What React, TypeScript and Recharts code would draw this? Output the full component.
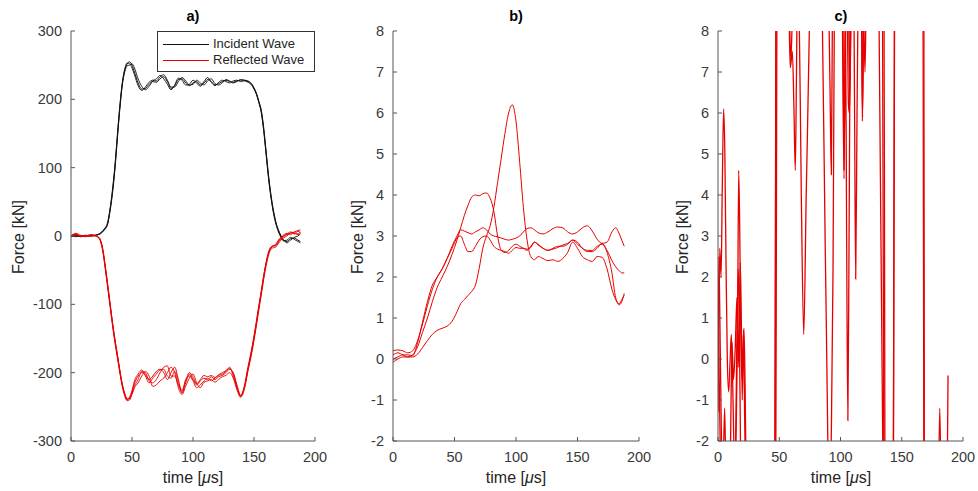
import React from 'react';
import { LineChart, Line, XAxis, YAxis } from 'recharts';

// ---------- Panel a) data ----------
const tA = [0, 4, 8, 12, 16, 20,
  22, 24, 26, 28, 30, 32, 34, 36, 38, 40, 42, 44, 46, 48, 50, 52,
  55, 58, 61, 64, 67, 70, 73, 76, 79, 82, 85, 88, 91, 94, 97, 100, 103, 106, 109, 112, 115, 118, 121, 124, 127, 130, 133, 136, 139, 142, 145, 148,
  150, 152, 154, 156, 158, 160, 162, 164, 166, 168, 170, 172, 174,
  177, 180, 183, 186, 188];

const incident1 = [0, 1, -1, 0, 0, 1,
  2, 4, 7, 11, 18, 38, 65, 100, 145, 188, 222, 242, 252, 255, 250, 240,
  224, 215, 216, 222, 226, 225, 230, 233, 226, 216, 220, 229, 230, 224, 220, 224, 226, 221, 224, 229, 226, 221, 223, 226, 228, 226, 225, 227, 228, 228, 226, 222,
  216, 208, 196, 182, 155, 120, 85, 57, 35, 19, 8, 0, -6,
  -8, -4, -3, -6, -8];
const incident2 = [0, 0, 0, 1, 0, 1,
  2, 3, 6, 10, 17, 36, 62, 97, 142, 185, 220, 240, 249, 250, 252, 246,
  230, 219, 214, 219, 227, 230, 235, 230, 222, 214, 221, 231, 228, 221, 222, 228, 224, 219, 226, 232, 225, 220, 225, 228, 226, 224, 227, 228, 226, 227, 225, 221,
  215, 207, 195, 180, 153, 118, 83, 55, 33, 17, 6, -2, -7,
  -6, -2, -5, -8, -10];
const incident3 = [0, -1, 0, 0, 1, 1,
  2, 4, 8, 12, 20, 40, 68, 103, 148, 190, 224, 244, 253, 252, 246, 236,
  220, 213, 218, 225, 228, 227, 233, 236, 228, 218, 218, 226, 232, 227, 221, 222, 228, 224, 221, 227, 230, 223, 221, 224, 229, 227, 224, 226, 229, 228, 227, 223,
  217, 209, 197, 184, 158, 123, 88, 59, 37, 20, 9, 1, -5,
  -10, -6, -2, 0, 3];

const reflected1 = [0, 3, -1, 0, 2, 1,
  -1, -6, -20, -45, -72, -100, -128, -153, -175, -198, -218, -232, -240, -237, -228, -216,
  -205, -200, -203, -210, -205, -198, -195, -200, -210, -200, -192, -210, -230, -215, -202, -210, -218, -212, -208, -210, -206, -210, -206, -204, -200, -195, -200, -218, -233, -222, -195, -170,
  -150, -128, -105, -83, -60, -40, -25, -17, -15, -14, -9, -4, -1,
  2, 4, 6, 8, 9];
const reflected2 = [0, 2, 0, -1, 1, 0,
  -1, -5, -18, -42, -70, -98, -126, -151, -173, -196, -216, -230, -238, -238, -230, -220,
  -210, -198, -200, -212, -215, -210, -200, -192, -190, -205, -205, -218, -228, -210, -205, -212, -222, -218, -212, -208, -212, -208, -204, -202, -198, -192, -205, -222, -235, -220, -192, -166,
  -146, -124, -101, -80, -57, -38, -23, -16, -14, -12, -6, -2, 1,
  4, 2, 5, 3, 6];
const reflected3 = [0, 4, 1, 0, 1, 0,
  -2, -7, -22, -47, -75, -103, -131, -156, -178, -200, -220, -234, -241, -240, -232, -222,
  -215, -205, -198, -205, -220, -218, -212, -208, -200, -192, -200, -222, -232, -220, -208, -202, -215, -222, -214, -212, -210, -214, -210, -206, -204, -200, -208, -225, -236, -225, -198, -173,
  -153, -131, -108, -86, -63, -43, -28, -19, -17, -16, -11, -6, -3,
  0, 5, 3, 7, 5];
const reflected4 = [1, 2, 0, 1, 0, 1,
  -1, -6, -20, -44, -71, -99, -127, -152, -174, -197, -217, -231, -239, -236, -226, -212,
  -202, -196, -205, -215, -208, -202, -196, -195, -205, -208, -198, -214, -226, -212, -200, -206, -216, -210, -204, -206, -204, -207, -203, -200, -197, -194, -202, -220, -234, -223, -196, -168,
  -148, -126, -103, -81, -58, -39, -24, -16, -14, -13, -7, -3, 0,
  3, 6, 4, 2, 4];

// ---------- Panel b) data ----------
const tB = [0, 4, 8, 12, 16, 20, 24, 28, 32, 36, 40, 44, 48, 52,
  55, 58, 61, 64, 67, 70, 73, 76, 79, 82, 85, 88, 91, 94, 97, 100, 103, 106, 109, 112, 115, 118,
  122, 126, 130, 134, 138, 142, 146, 150, 154, 158, 162, 166, 170, 174, 178,
  181, 184, 186, 188];

const bSeries1 = [0.1, 0.15, 0.1, 0.05, 0.1, 0.3, 0.65, 1.0, 1.4, 1.75, 2.0, 2.25, 2.55, 2.9,
  3.2, 3.5, 3.75, 3.95, 4.0, 3.98, 4.03, 4.05, 3.92, 3.6, 3.0, 2.65, 2.6, 2.65, 2.75, 2.8, 2.75, 2.7, 2.65, 2.75, 2.85, 2.8,
  2.7, 2.65, 2.7, 2.75, 2.75, 2.8, 2.9, 2.85, 2.7, 2.65, 2.65, 2.75, 2.8, 2.65, 2.4,
  2.25, 2.15, 2.1, 2.1];
const bSeries2 = [0.2, 0.22, 0.2, 0.15, 0.2, 0.45, 0.85, 1.3, 1.7, 2.0, 2.2, 2.45, 2.75, 3.0,
  3.15, 3.12, 3.08, 3.05, 3.1, 3.15, 3.2, 3.15, 3.05, 3.0, 2.98, 2.95, 2.92, 2.9, 2.92, 2.95, 3.0, 3.1, 3.18, 3.2, 3.15, 3.08,
  3.05, 3.1, 3.18, 3.22, 3.2, 3.1, 3.05, 3.1, 3.2, 3.25, 3.12, 2.92, 2.82, 2.85, 3.1,
  3.2, 3.05, 2.9, 2.75];
const bSeries3 = [0.0, 0.05, 0.1, 0.1, 0.08, 0.4, 0.9, 1.4, 1.8, 2.0, 2.2, 2.45, 2.7, 2.95,
  3.0, 2.8, 2.62, 2.62, 2.75, 2.9, 2.98, 3.0, 2.9, 2.75, 2.68, 2.65, 2.62, 2.58, 2.65, 2.72, 2.7, 2.7, 2.68, 2.72, 2.85, 2.78,
  2.7, 2.65, 2.68, 2.72, 2.78, 2.82, 2.9, 2.8, 2.7, 2.62, 2.62, 2.7, 2.82, 2.6, 2.1,
  1.5, 1.32, 1.4, 1.6];
const bSeries4 = [-0.08, 0.0, 0.05, 0.05, 0.05, 0.12, 0.28, 0.45, 0.6, 0.7, 0.75, 0.8, 0.92, 1.15,
  1.35, 1.45, 1.55, 1.65, 1.8, 2.2, 2.7, 3.0, 3.25, 3.7, 4.3, 4.9, 5.5, 6.0, 6.2, 5.8, 4.8, 3.7, 2.9, 2.5, 2.42, 2.5,
  2.45, 2.4, 2.42, 2.38, 2.45, 2.6, 2.85, 2.7, 2.5, 2.42, 2.38, 2.5, 2.48, 2.2, 1.7,
  1.45, 1.35, 1.45, 1.55];

// ---------- Panel c) data ----------
const tC1 = [0, 1.4, 2.5, 3.5, 4.6, 5.6, 6.6, 7.6, 8.7, 9.8, 10.9, 12, 13.5, 15, 16, 16.9, 17.8, 18.6, 19.6, 20.5, 21.2, 22.1, 23.2, 26, 34, 42, 46,
  47.3, 49, 53, 57, 58, 59, 60.7, 62, 63.1, 64, 65, 66, 68, 70, 72, 74.8, 77, 81, 84, 85.2, 87.5, 89.8, 91, 92, 93.9, 95, 97, 100,
  101.5, 102.9, 104, 105, 106, 107, 108, 110, 111.5, 112.4, 113.5, 114.5, 117, 117.8, 118.8, 121, 128, 134, 135.5, 137, 140, 143,
  144, 145, 155, 166, 167.5, 169.2, 175, 179, 181, 182, 184, 186.5, 187.8];
const vC1 = [-1.3, 2.7, 2.0, 4.2, 6.1, 5.0, 2.2, 0.0, -0.8, -0.1, 0.6, -0.6, -2.6, -1.4, 0.8, 4.6, 3.0, 0.6, -0.5, 0.3, 0.75, -0.6, -3.5, -14, -22, -16, -6,
  8.5, 22, 28, 14, 8.6, 7.1, 7.5, 6.1, 4.6, 6.8, 9.5, 9, 4, 0.6, 4, 8.4, 14, 15, 10, 8.2, 2.8, -2.3, -6, -3, 2.2, 8.6, 16, 14,
  8.5, 4.4, 8.6, 3, -1.5, 3, 8.5, 12, 6, 1.95, 6, 8.6, 9, 5.8, 8.5, 20, 30, 12, -4, -30, -25, -6,
  8.5, 20, 30, 18, 20, -20, -20, -6, -1.2, -3, -8, -5, -0.4];

const tC2 = [0, 0.7, 1.6, 2.6, 3.8, 5.4, 6.5, 8, 10, 11.5, 12.6, 14, 15.5, 16.5, 17.4, 18.2, 19, 19.8, 20.8, 21.8, 23, 30, 40, 46.5,
  48.2, 52, 60, 75, 88, 90, 91.5, 92.5, 93.4, 96, 100, 102, 102.9, 104, 105.5, 106.5, 107.2, 108, 109, 111, 118, 119, 120, 121,
  126, 135, 136.3, 138, 150, 165, 180, 188];
const vC2 = [-0.2, 2.5, 0.8, -1.5, -3.2, -1.2, -3.0, -4, -2.5, 0.4, -0.5, 0.2, 1.5, -0.2, 1.0, 2.35, 1.0, -1.0, 0.7, -1.5, -4, -15, -18, -10,
  10, 26, 24, 20, 14, 9.5, 6.5, 4.5, 8.5, 15, 12, 8.5, 4.6, 8.7, 8.3, 6.2, 6.0, 7.2, 8.7, 12, 10, 8.4, 7.0, 9,
  22, 15, -3, -25, -22, -15, -10, -8];

const tC3 = [0, 1, 2, 4, 10, 14, 16.5, 17.2, 18.5, 22, 45, 46.8, 47.5, 55, 58.5, 59.5, 60.5, 64, 90, 105, 106.5, 107.5, 108.5,
  116, 118, 119, 128, 136, 139, 143, 144.5, 150, 167, 169, 178, 188];
const vC3 = [2.0, -0.5, -2.5, -6, -8, -3, 2.2, 1.3, -2.5, -10, -20, -1, 12, 22, 8.2, 7.3, 8.2, 16, 20, 15, 9, 6.5, 9,
  14, 5.9, 9, 20, -8, -25, -4, 12, 28, 15, -18, -20, -10];

// ---------- Axis ticks ----------
const xTicks = [0, 50, 100, 150, 200];
const yTicksA = [-300, -200, -100, 0, 100, 200, 300];
const yTicksBC = [-2, -1, 0, 1, 2, 3, 4, 5, 6, 7, 8];

const legendItems = [
  { label: 'Incident Wave', color: '#111111' },
  { label: 'Reflected Wave', color: '#e60000' },
];

const FONT = '"Liberation Sans", Arial, Helvetica, sans-serif';
const AXIS = '#555555';
const TICK_TEXT = '#3a3a3a';
const RED = '#e60000';
const BLACK = '#111111';

function toRows(t: number[], v: number[]) {
  return t.map((x, i) => ({ t: x, v: v[i] }));
}

type Series = { data: { t: number; v: number }[]; color: string; w: number };

function Panel(props: {
  left: number; yWidth: number; plotWidth: number; rightMargin: number;
  yDomain: [number, number]; yTicks: number[]; series: Series[];
}) {
  const { left, yWidth, plotWidth, rightMargin, yDomain, yTicks, series } = props;
  const width = yWidth + plotWidth + rightMargin;
  const tickStyle = { fill: TICK_TEXT, fontSize: 14.5, fontFamily: FONT };
  return (
    <div style={{ position: 'absolute', left, top: 0 }}>
      <LineChart width={width} height={491} margin={{ top: 31, right: rightMargin, bottom: 0, left: 0 }}>
        <XAxis
          type="number"
          dataKey="t"
          domain={[0, 200]}
          ticks={xTicks}
          interval={0}
          height={50}
          tickSize={-4}
          tickMargin={15}
          stroke={AXIS}
          tick={tickStyle}
          allowDataOverflow
        />
        <YAxis
          type="number"
          domain={yDomain}
          ticks={yTicks}
          interval={0}
          width={yWidth}
          tickSize={-4}
          tickMargin={13}
          stroke={AXIS}
          tick={tickStyle}
          allowDataOverflow
        />
        {series.map((s, i) => (
          <Line
            key={i}
            data={s.data}
            dataKey="v"
            type="monotone"
            stroke={s.color}
            strokeWidth={s.w}
            dot={false}
            activeDot={false}
            isAnimationActive={false}
          />
        ))}
      </LineChart>
    </div>
  );
}

function CenterText(props: { x: number; y: number; rotate?: boolean; bold?: boolean; size: number; children: React.ReactNode }) {
  const { x, y, rotate, bold, size, children } = props;
  return (
    <div
      style={{
        position: 'absolute',
        left: x,
        top: y,
        transform: `translate(-50%, -50%)${rotate ? ' rotate(-90deg)' : ''}`,
        whiteSpace: 'nowrap',
        fontFamily: FONT,
        fontSize: size,
        fontWeight: bold ? 'bold' : 'normal',
        color: bold ? '#000' : '#262626',
        lineHeight: 1,
      }}
    >
      {children}
    </div>
  );
}

export default function App() {
  const seriesA: Series[] = [
    { data: toRows(tA, incident1), color: BLACK, w: 1 },
    { data: toRows(tA, incident2), color: BLACK, w: 0.9 },
    { data: toRows(tA, incident3), color: BLACK, w: 0.9 },
    { data: toRows(tA, reflected1), color: RED, w: 1 },
    { data: toRows(tA, reflected2), color: RED, w: 0.9 },
    { data: toRows(tA, reflected3), color: RED, w: 0.9 },
    { data: toRows(tA, reflected4), color: RED, w: 0.9 },
  ];
  const seriesB: Series[] = [
    { data: toRows(tB, bSeries1), color: RED, w: 1 },
    { data: toRows(tB, bSeries2), color: RED, w: 1 },
    { data: toRows(tB, bSeries3), color: RED, w: 1 },
    { data: toRows(tB, bSeries4), color: RED, w: 1 },
  ];
  const seriesC: Series[] = [
    { data: toRows(tC1, vC1), color: RED, w: 1.3 },
    { data: toRows(tC2, vC2), color: RED, w: 1.3 },
    { data: toRows(tC3, vC3), color: RED, w: 1.3 },
  ];
  const axisLabel = (
    <>time [<span style={{ fontStyle: 'italic' }}>μ</span>s]</>
  );
  return (
    <div style={{ position: 'absolute', left: 0, top: 0, width: 978, height: 491, background: '#fff', overflow: 'hidden' }}>
      <Panel left={0} yWidth={71} plotWidth={244} rightMargin={20} yDomain={[-300, 300]} yTicks={yTicksA} series={seriesA} />
      <Panel left={330} yWidth={63} plotWidth={246} rightMargin={20} yDomain={[-2, 8]} yTicks={yTicksBC} series={seriesB} />
      <Panel left={655} yWidth={63} plotWidth={245} rightMargin={15} yDomain={[-2, 8]} yTicks={yTicksBC} series={seriesC} />

      <CenterText x={193} y={16} bold size={14.5}>a)</CenterText>
      <CenterText x={516} y={16} bold size={14.5}>b)</CenterText>
      <CenterText x={841} y={16} bold size={14.5}>c)</CenterText>

      <CenterText x={19} y={237} rotate size={16}>Force [kN]</CenterText>
      <CenterText x={358} y={237} rotate size={16}>Force [kN]</CenterText>
      <CenterText x={683} y={237} rotate size={16}>Force [kN]</CenterText>

      <CenterText x={193} y={478} size={16}>{axisLabel}</CenterText>
      <CenterText x={516} y={478} size={16}>{axisLabel}</CenterText>
      <CenterText x={841} y={478} size={16}>{axisLabel}</CenterText>

      <div
        style={{
          position: 'absolute', left: 157, top: 31, width: 156, height: 39,
          border: '1px solid #333', background: '#fff', fontFamily: FONT, fontSize: 13, color: '#262626',
        }}
      >
        {legendItems.map((it, i) => (
          <div key={it.label} style={{ position: 'absolute', left: 0, top: 4 + i * 16, height: 16, display: 'flex', alignItems: 'center' }}>
            <div style={{ marginLeft: 5, width: 46, height: 0, borderTop: `1.2px solid ${it.color}` }} />
            <div style={{ marginLeft: 4, lineHeight: '16px' }}>{it.label}</div>
          </div>
        ))}
      </div>
    </div>
  );
}
